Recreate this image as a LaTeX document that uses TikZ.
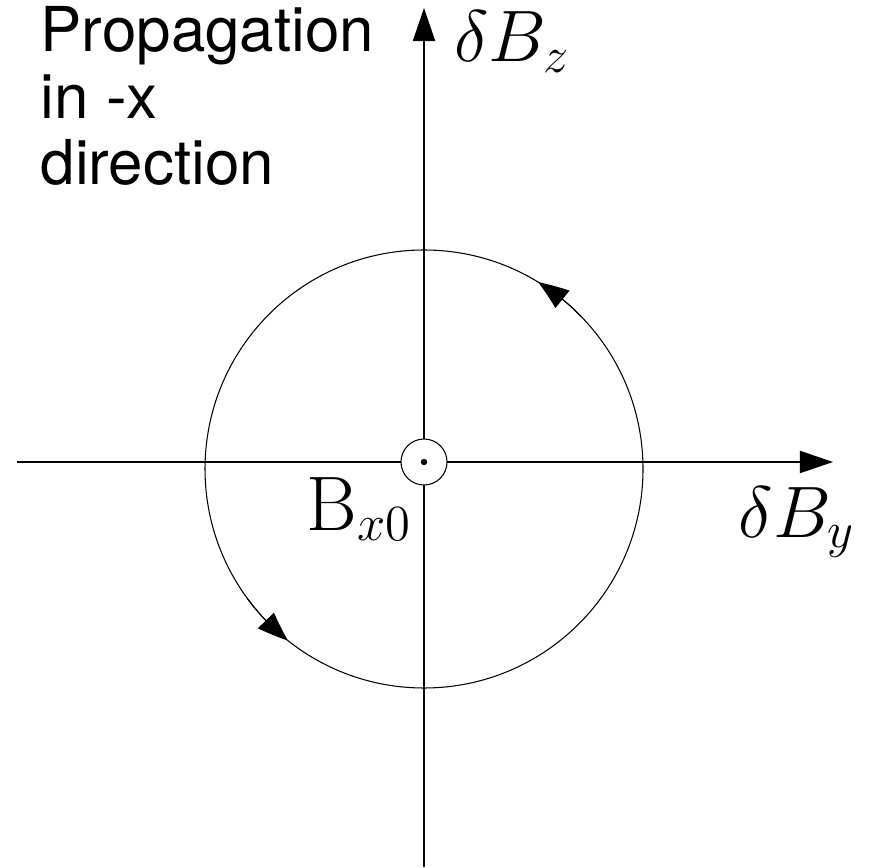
\documentclass[tikz,border=0pt]{standalone}
\usepackage{fontspec}
\setsansfont{TeX Gyre Heros}
\usetikzlibrary{arrows.meta,bending,positioning,calc}

\begin{document}
\begin{tikzpicture}[
    x=0.01cm, y=0.01cm,
    axis/.style={line width=0.4pt, -{Triangle[length=9.4pt, width=6.3pt]}},
    orbit/.style={line width=0.3pt},
    turn/.style={line width=0.3pt, -{Triangle[length=8.5pt, width=6.3pt, bend]}},
    mathlabel/.style={inner sep=0pt, font=\fontsize{22}{24}\selectfont},
    note/.style={inner sep=0pt, align=left, font=\sffamily\fontsize{17.6}{19}\selectfont}
]
\useasboundingbox (0,0) rectangle (874,867);
\coordinate (origin) at (424,405);
\coordinate (centre) at (424,398);
\coordinate (left) at (17,405);
\coordinate (right) at (833,405);
\coordinate (bottom) at (424,0);
\coordinate (top) at (424,859);
\draw[axis] (left) -- (right);
\draw[axis] (bottom) -- (top);
\draw[orbit] (centre) circle (219);
\draw[turn] ($(centre)+(44:219)$) arc (44:58.6:219);
\draw[turn] ($(centre)+(216:219)$) arc (216:231.6:219);
\node[orbit, draw, circle, inner sep=0pt, fill=white, minimum size=0.46cm] (bx) at (origin) {};
\fill (origin) circle (3.2);
\node[mathlabel, anchor=base west] (bz) at (454,805) {$\delta B_z$};
\node[mathlabel, anchor=base west] (by) at (738,330) {$\delta B_y$};
\node[mathlabel, anchor=base west] (bxlabel) at (306,337) {$\mathrm{B}_{x0}$};
\node[note, anchor=base west] (prop) at (40,682) {Propagation\\in -x\\direction};
\end{tikzpicture}
\end{document}
